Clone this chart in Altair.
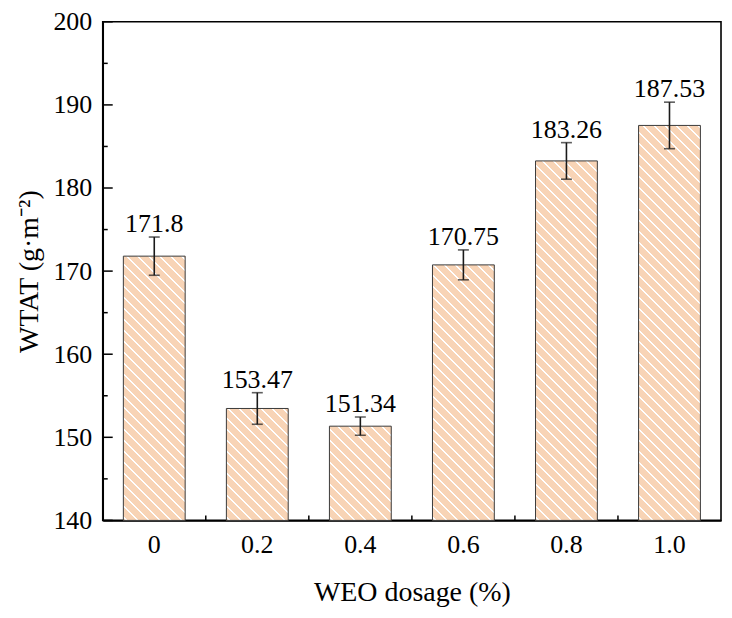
import math
import altair as alt
import pandas as pd

# ---- data ----
dosage = ["0", "0.2", "0.4", "0.6", "0.8", "1.0"]
wtat = [171.8, 153.47, 151.34, 170.75, 183.26, 187.53]
err = [2.3, 1.9, 1.1, 1.8, 2.2, 2.8]
labels = ["171.8", "153.47", "151.34", "170.75", "183.26", "187.53"]
y_major = [140, 150, 160, 170, 180, 190, 200]
y_minor = [145, 155, 165, 175, 185, 195]

# ---- style / layout ----
W, H = 620, 500
YMIN, YMAX = 140, 200
FONT = "Liberation Serif"
FILL = "#F8D4B6"
STRIPE = "#FFFFFF"
BAR_W = 62

df = pd.DataFrame({
    "dosage": dosage,
    "wtat": wtat,
    "lo": [v - e for v, e in zip(wtat, err)],
    "hi": [v + e for v, e in zip(wtat, err)],
    "label": labels,
})

x_enc = alt.X("dosage:N", sort=dosage,
              scale=alt.Scale(paddingInner=0, paddingOuter=0),
              axis=alt.Axis(title="WEO dosage (%)", labelAngle=0, ticks=False, tickSize=0,
                            labelPadding=32, labelBaseline="alphabetic",
                            titleBaseline="alphabetic", titleX=W / 2, titleY=80,
                            titleAlign="center"))
y_scale = alt.Scale(domain=[YMIN, YMAX], nice=False, zero=False)
y_axis = alt.Axis(title="WTAT (g·m⁻²)", values=y_major, ticks=False, tickSize=0,
                  labelPadding=11, grid=False, labelOverlap=False,
                  titleAngle=270, titleX=-65, titleY=H / 2,
                  titleBaseline="alphabetic", titleAlign="center")

base = alt.Chart(df)


def hatch_gradient(value):
    """Diagonal white stripe fill (\\ direction) for a bar spanning YMIN..value.
    SVG linear gradients use bounding-box units, so the vector is chosen to
    give 45-degree stripes on screen for this bar's aspect ratio."""
    w = BAR_W
    h = (value - YMIN) / (YMAX - YMIN) * H
    s = (w + h) / (w * w + h * h)
    x2, y2 = s * w, 1 - s * h
    L = (w + h) / math.sqrt(2)  # perpendicular pixel length of the gradient
    period, lw = 7.8, 1.2
    stops = [{"offset": 0, "color": FILL}]
    t = 2.0
    while t + lw < L:
        a, b = t / L, (t + lw) / L
        stops += [{"offset": a, "color": FILL}, {"offset": a, "color": STRIPE},
                  {"offset": b, "color": STRIPE}, {"offset": b, "color": FILL}]
        t += period
    stops.append({"offset": 1, "color": FILL})
    return {"gradient": "linear", "x1": 0, "y1": 1, "x2": x2, "y2": y2, "stops": stops}


bar_layers = []
for d, v in zip(dosage, wtat):
    bar_layers.append(
        base.transform_filter(alt.datum.dosage == d).mark_bar(
            fill=hatch_gradient(v), stroke="#3a3a3a", strokeWidth=1, width=BAR_W
        ).encode(x=x_enc, y=alt.Y("wtat:Q", scale=y_scale, axis=y_axis),
                 y2=alt.datum(YMIN))
    )

err_rule = base.mark_rule(color="#1a1a1a", strokeWidth=1.6).encode(
    x=alt.X("dosage:N", sort=dosage), y="lo:Q", y2="hi:Q")
cap_lo = base.mark_tick(color="#1a1a1a", thickness=1.6, size=11, orient="horizontal").encode(
    x=alt.X("dosage:N", sort=dosage), y="lo:Q")
cap_hi = base.mark_tick(color="#1a1a1a", thickness=1.6, size=11, orient="horizontal").encode(
    x=alt.X("dosage:N", sort=dosage), y="hi:Q")
txt = base.mark_text(font=FONT, fontSize=26, baseline="alphabetic", dy=-5, color="black").encode(
    x=alt.X("dosage:N", sort=dosage), y="hi:Q", text="label:N")

# inward ticks
ymaj = alt.Chart(pd.DataFrame({"v": y_major})).mark_rule(color="black", strokeWidth=1.5).encode(
    y="v:Q", x=alt.value(0), x2=alt.value(10))
ymin = alt.Chart(pd.DataFrame({"v": y_minor})).mark_rule(color="black", strokeWidth=1.5).encode(
    y="v:Q", x=alt.value(0), x2=alt.value(5))
xtk = base.mark_rule(color="black", strokeWidth=1.5).encode(
    x=alt.X("dosage:N", sort=dosage, bandPosition=0), y=alt.value(H - 5), y2=alt.value(H))

chart = alt.layer(*bar_layers, err_rule, cap_lo, cap_hi, txt, ymaj, ymin, xtk).properties(
    width=W, height=H,
    autosize=alt.AutoSizeParams(type="none"),
    padding={"left": 95, "top": 13, "right": 3, "bottom": 92},
).configure_view(
    stroke="black", strokeWidth=1.6
).configure_axis(
    labelFont=FONT, titleFont=FONT, labelFontSize=26, titleFontSize=28,
    labelColor="black", titleColor="black", titleFontWeight="normal",
    domainColor="black", domainWidth=1.6, grid=False,
)

chart.save("out.html", embed_options={"renderer": "svg", "actions": False})
